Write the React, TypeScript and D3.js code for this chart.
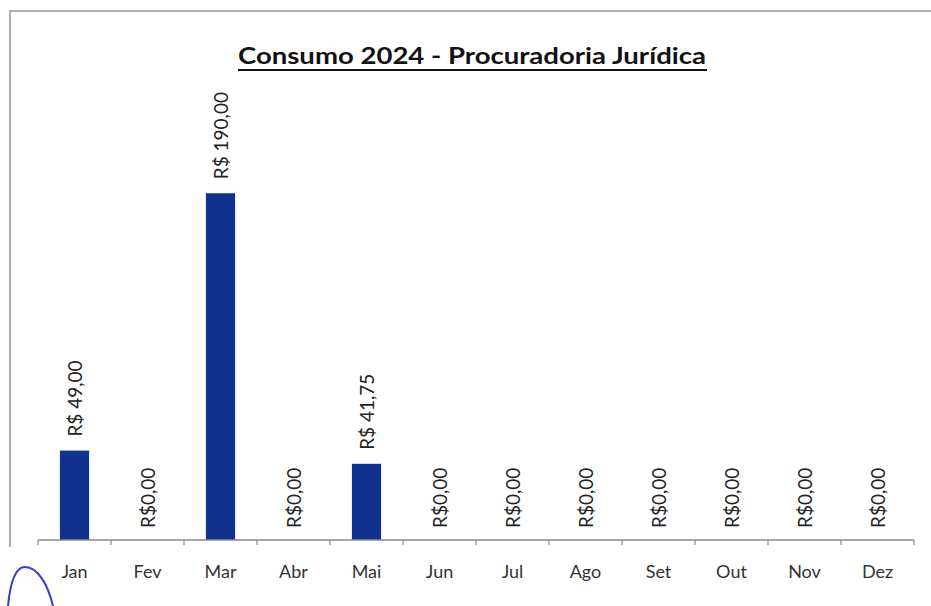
import React from "react";
import * as d3 from "d3";

const months = ["Jan", "Fev", "Mar", "Abr", "Mai", "Jun", "Jul", "Ago", "Set", "Out", "Nov", "Dez"];
const values = [49.0, 0, 190.0, 0, 41.75, 0, 0, 0, 0, 0, 0, 0];
const valueLabels = ["R$ 49,00", "R$0,00", "R$ 190,00", "R$0,00", "R$ 41,75", "R$0,00", "R$0,00", "R$0,00", "R$0,00", "R$0,00", "R$0,00", "R$0,00"];
const title = "Consumo 2024 - Procuradoria Jurídica";

const W = 931;
const H = 606;

export default function App() {
  const x = d3.scaleBand<string>().domain(months).range([38, 914]).paddingInner(0).paddingOuter(0);
  const y = d3.scaleLinear().domain([0, 200]).range([540, 175]);
  const bw = x.bandwidth() * 0.4;
  const ticks = d3.range(months.length + 1).map((i) => 38 + i * x.step());
  const font = "Lato, 'Open Sans', sans-serif";

  return (
    <svg width={W} height={H} style={{ position: "absolute", left: 0, top: 0, background: "#fff" }}>
      <rect x={0} y={0} width={W} height={H} fill="#fff" />
      {/* frame */}
      <path d={`M10,547 L10,11 L931,11`} fill="none" stroke="#b0b0b0" strokeWidth={2} />
      {/* title */}
      <text x={472} y={64} textAnchor="middle" fontFamily={font} fontWeight="bold" fontSize={23} fill="#111" textLength={468} lengthAdjust="spacingAndGlyphs">
        {title}
      </text>
      <line x1={238} x2={707} y1={70} y2={70} stroke="#111" strokeWidth={2} />
      {/* bars */}
      {values.map((v, i) => (
        <rect key={i} x={(x(months[i]) as number) + (x.bandwidth() - bw) / 2} y={y(v)} width={bw} height={y(0) - y(v)} fill="#12308e" />
      ))}
      {/* axis */}
      <line x1={38} x2={914} y1={540} y2={540} stroke="#8a8a8a" strokeWidth={1.5} />
      {ticks.map((t, i) => (
        <line key={i} x1={t} x2={t} y1={540} y2={545} stroke="#8a8a8a" strokeWidth={1.2} />
      ))}
      {months.map((m) => (
        <text key={m} x={(x(m) as number) + x.bandwidth() / 2} y={578} textAnchor="middle" fontFamily={font} fontSize={18} fill="#333">
          {m}
        </text>
      ))}
      {/* value labels */}
      {values.map((v, i) => {
        const cx = (x(months[i]) as number) + x.bandwidth() / 2;
        const cy = y(v) - (v > 0 ? 14 : 12);
        return (
          <text key={i} transform={`translate(${cx},${cy}) rotate(-90)`} textAnchor="start" dominantBaseline="central" fontFamily={font} fontSize={19} fill="#222">
            {valueLabels[i]}
          </text>
        );
      })}
      {/* pen mark */}
      <path d="M8,606 C10,585 15,567 25,567 C38,567 48,585 53,606" fill="none" stroke="#3b3bc4" strokeWidth={2} />
    </svg>
  );
}
